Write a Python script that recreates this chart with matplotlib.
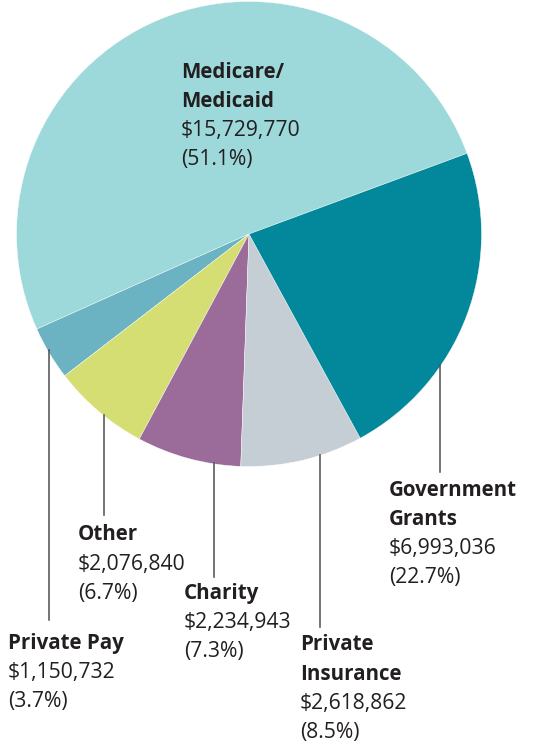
import matplotlib.pyplot as plt
from matplotlib.lines import Line2D

# order: counterclockwise starting from the Medicare slice
labels = ['Medicare/\nMedicaid', 'Private Pay', 'Other', 'Charity',
          'Private\nInsurance', 'Government\nGrants']
values = [15729770, 1150732, 2076840, 2234943, 2618862, 6993036]
pct_labels = ['51.1%', '3.7%', '6.7%', '7.3%', '8.5%', '22.7%']
colors = ['#9dd8da', '#6bb3c2', '#d4de72', '#9b6c99', '#c5ced4', '#03879a']

W, H = 533, 745
fig = plt.figure(figsize=(W / 100, H / 100), dpi=100)

cx, cy, r = 249, 234, 232.5
ax = fig.add_axes([(cx - r) / W, (H - cy - r) / H, 2 * r / W, 2 * r / H])
ax.pie(values, colors=colors, startangle=20.3, counterclock=True, radius=1,
       wedgeprops=dict(linewidth=0.3, edgecolor='white'))
ax.set_xlim(-1, 1)
ax.set_ylim(-1, 1)
ax.set_aspect('equal')
ax.axis('off')


def px(x, y):
    return x / W, 1 - y / H


# label anchor (left x, center y of first line) in pixels
label_pos = [(181, 72), (8, 643), (78, 535), (184, 593), (300, 645), (389, 490)]
line_gap = 29.2
txt_color = '#231f20'
font = 'Open Sans'

for lab, val, pct, (x, y) in zip(labels, values, pct_labels, label_pos):
    rows = lab.split('\n')
    k = 0
    for row in rows:
        fig.text(*px(x, y + k * line_gap), row, fontsize=14.8, fontweight='bold',
                 family=font, color=txt_color, va='center', ha='left')
        k += 1
    fig.text(*px(x, y + k * line_gap), f'${val:,}', fontsize=15.2,
             family=font, color=txt_color, va='center', ha='left')
    fig.text(*px(x, y + (k + 1) * line_gap), f'({pct})', fontsize=15.2,
             family=font, color=txt_color, va='center', ha='left')

# leader lines (x, top y, bottom y) in pixels
leaders = [(49, 350, 620), (104, 415, 515), (214, 463, 577),
           (320, 455, 627), (440, 365, 472)]
for x, y0, y1 in leaders:
    fig.add_artist(Line2D([x / W, x / W], [1 - y0 / H, 1 - y1 / H],
                          transform=fig.transFigure, color='#4d4d4d', lw=1.1))

fig.savefig('out.png', dpi=100)
